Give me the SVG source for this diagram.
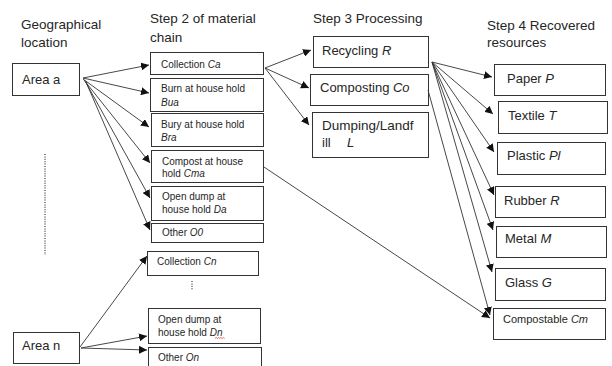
<svg xmlns="http://www.w3.org/2000/svg" width="612" height="366" viewBox="0 0 612 366">
<style>
text{font-family:"Liberation Sans",Arial,sans-serif;fill:#262626}
.h{font-size:13.5px}
.s{font-size:10px}
.m{font-size:13px}
.i{font-style:italic}
.box{fill:#fff;stroke:#333;stroke-width:1}
.c{stroke:#333;stroke-width:0.9;fill:none;marker-end:url(#ah)}
.dot{stroke:#333;stroke-width:1.2;stroke-dasharray:1 1.4;fill:none}
</style>
<defs>
<marker id="ah" markerUnits="userSpaceOnUse" markerWidth="9" markerHeight="8" refX="8" refY="4" orient="auto">
<path d="M0,0 L8,4 L0,8 Z" fill="#111"/>
</marker>
</defs>

<g id="headers">
<text class="h" x="21" y="29">Geographical</text>
<text class="h" x="21" y="47">location</text>
<text class="h" x="150" y="23">Step 2 of material</text>
<text class="h" x="150" y="42">chain</text>
<text class="h" x="313" y="23">Step 3 Processing</text>
<text class="h" x="487" y="30">Step 4 Recovered</text>
<text class="h" x="487" y="47">resources</text>
</g>

<g id="area-a"><rect class="box" x="12.5" y="63.5" width="67" height="32"/><text class="m" x="22" y="84">Area a</text></g>
<g id="area-n"><rect class="box" x="13.5" y="332.5" width="66" height="31"/><text class="m" x="22" y="350">Area n</text></g>
<g id="dots-left"><line class="dot" x1="45" y1="154" x2="45" y2="255"/></g>

<g id="collection-ca"><rect class="box" x="150.5" y="52.5" width="113" height="22"/><text class="s" x="161" y="68">Collection <tspan class="i">Ca</tspan></text></g>
<g id="burn-bua"><rect class="box" x="150.5" y="78.5" width="113" height="33"/><text class="s" x="161" y="92">Burn at house hold</text><text class="s i" x="161" y="106">Bua</text></g>
<g id="bury-bra"><rect class="box" x="151.5" y="113.5" width="112" height="33"/><text class="s" x="161" y="128">Bury at house hold</text><text class="s i" x="161" y="141">Bra</text></g>
<g id="compost-cma"><rect class="box" x="151.5" y="150.5" width="112" height="32"/><text class="s" x="162" y="165">Compost at house</text><text class="s" x="162" y="177">hold <tspan class="i">Cma</tspan></text></g>
<g id="opendump-da"><rect class="box" x="151.5" y="186.5" width="112" height="34"/><text class="s" x="162" y="200">Open dump at</text><text class="s" x="162" y="213">house hold <tspan class="i">Da</tspan></text></g>
<g id="other-o0"><rect class="box" x="151.5" y="223.5" width="112" height="19"/><text class="s" x="162" y="236">Other <tspan class="i">O0</tspan></text></g>
<g id="collection-cn"><rect class="box" x="147.5" y="251.5" width="111" height="24"/><text class="s" x="157" y="265">Collection <tspan class="i">Cn</tspan></text></g>
<g id="dots-mid"><line class="dot" x1="192" y1="281" x2="192" y2="290"/></g>
<g id="opendump-dn"><rect class="box" x="148.5" y="308.5" width="112" height="35"/><text class="s" x="158" y="323">Open dump at</text><text class="s" x="158" y="336">house hold <tspan class="i">Dn</tspan></text><path d="M215,338.5 l1.2,-1 l1.2,1 l1.2,-1 l1.2,1 l1.2,-1 l1.2,1 l1.2,-1 l1.2,1" fill="none" stroke="#d22" stroke-width="0.7"/></g>
<g id="other-on"><rect class="box" x="148.5" y="347.5" width="113" height="22"/><text class="s" x="158" y="361">Other <tspan class="i">On</tspan></text></g>

<g id="recycling"><rect class="box" x="313.5" y="36.5" width="115" height="31"/><text class="m" x="322" y="55">Recycling <tspan class="i">R</tspan></text></g>
<g id="composting"><rect class="box" x="310.5" y="74.5" width="118" height="31"/><text class="m" x="320" y="92">Composting <tspan class="i">Co</tspan></text></g>
<g id="dumping"><rect class="box" x="312.5" y="112.5" width="116" height="45"/><text class="m" x="322" y="130" style="font-size:13.5px">Dumping/Landf</text><text class="m" x="322" y="147">ill</text><text class="m i" x="347" y="147">L</text></g>

<g id="paper"><rect class="box" x="494.5" y="64.5" width="111" height="31"/><text class="m" x="507" y="83">Paper <tspan class="i">P</tspan></text></g>
<g id="textile"><rect class="box" x="498.5" y="101.5" width="109" height="32"/><text class="m" x="508" y="120">Textile <tspan class="i">T</tspan></text></g>
<g id="plastic"><rect class="box" x="497.5" y="142.5" width="108" height="32"/><text class="m" x="507" y="160">Plastic <tspan class="i">Pl</tspan></text></g>
<g id="rubber"><rect class="box" x="495.5" y="186.5" width="110" height="31"/><text class="m" x="504" y="205">Rubber <tspan class="i">R</tspan></text></g>
<g id="metal"><rect class="box" x="496.5" y="226.5" width="110" height="31"/><text class="m" x="505" y="243">Metal <tspan class="i">M</tspan></text></g>
<g id="glass"><rect class="box" x="495.5" y="268.5" width="110" height="32"/><text class="m" x="505" y="287">Glass <tspan class="i">G</tspan></text></g>
<g id="compostable"><rect class="box" x="493.5" y="308.5" width="112" height="31"/><text x="503" y="323" style="font-size:11px">Compostable <tspan class="i">Cm</tspan></text></g>

<g id="connectors">
<line class="c" x1="83" y1="78" x2="149" y2="65"/>
<line class="c" x1="83" y1="78" x2="149" y2="93"/>
<line class="c" x1="83" y1="79" x2="149" y2="127"/>
<line class="c" x1="84" y1="80" x2="150" y2="163"/>
<line class="c" x1="85" y1="81" x2="150" y2="198"/>
<line class="c" x1="86" y1="82" x2="150" y2="230"/>
<line class="c" x1="80" y1="347" x2="147" y2="256"/>
<line class="c" x1="81" y1="348" x2="147" y2="336"/>
<line class="c" x1="81" y1="348" x2="147" y2="350"/>
<line class="c" x1="265" y1="68" x2="311" y2="50"/>
<line class="c" x1="265" y1="68" x2="309" y2="88"/>
<line class="c" x1="265" y1="68" x2="309" y2="125"/>
<line class="c" x1="264" y1="167" x2="490" y2="318"/>
<line class="c" x1="432" y1="62" x2="492" y2="77"/>
<line class="c" x1="432" y1="62" x2="493" y2="114"/>
<line class="c" x1="432" y1="62" x2="494" y2="152"/>
<line class="c" x1="432" y1="62" x2="494" y2="195"/>
<line class="c" x1="432" y1="62" x2="493" y2="230"/>
<line class="c" x1="432" y1="62" x2="492" y2="272"/>
<line class="c" x1="428" y1="90" x2="490" y2="315"/>
</g>
</svg>
